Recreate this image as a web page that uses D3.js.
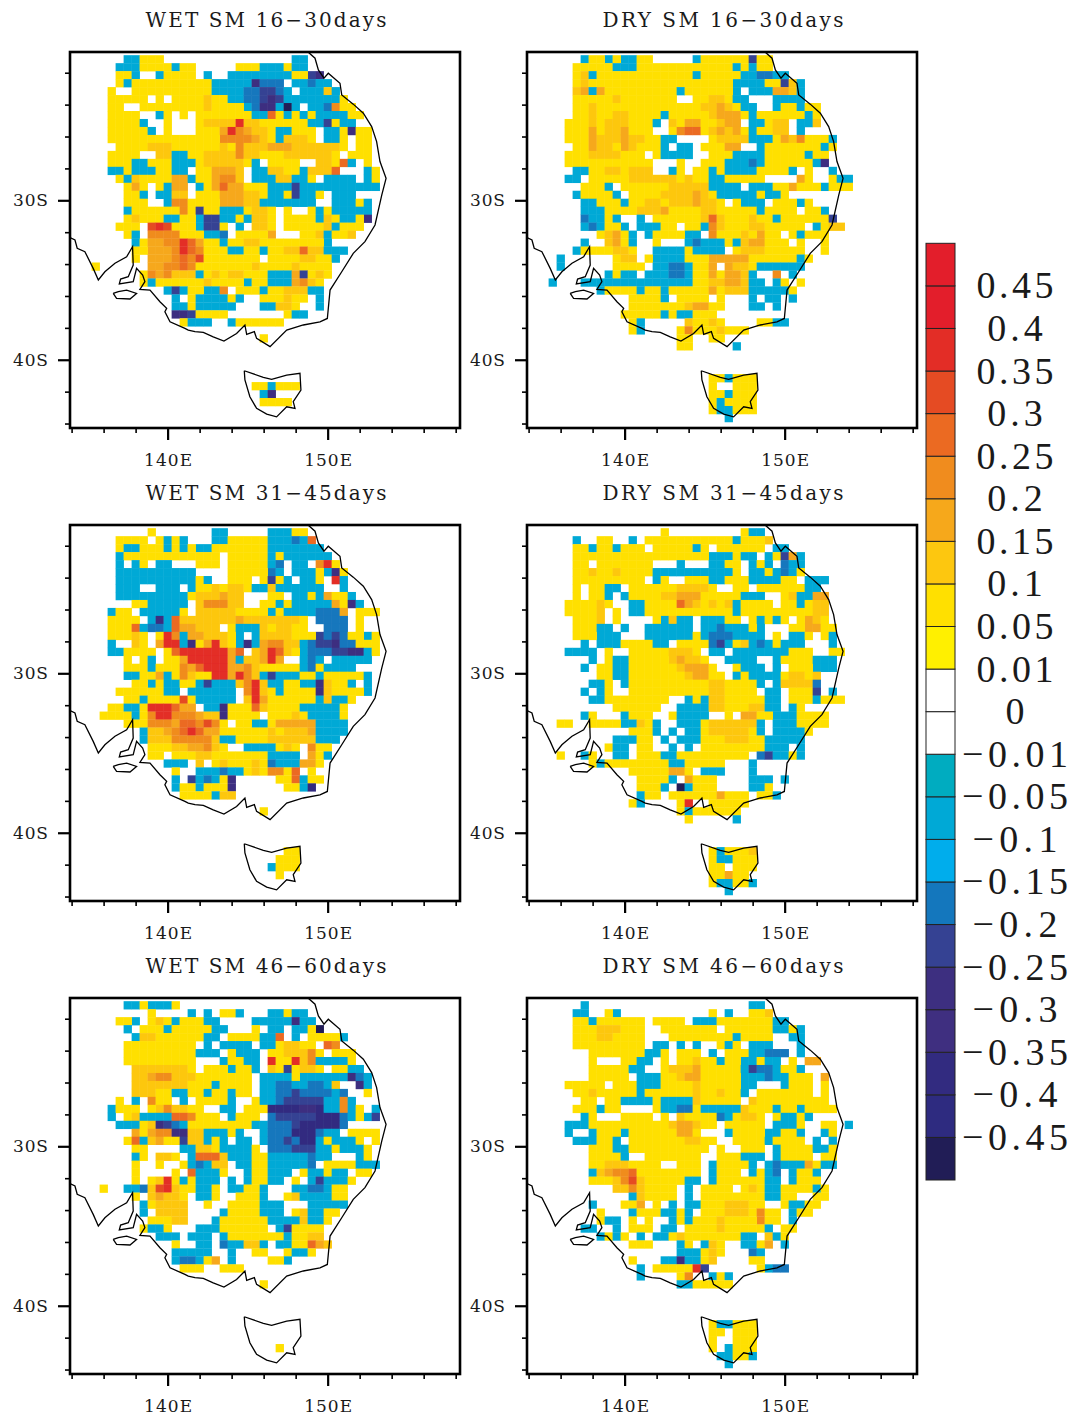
<!DOCTYPE html>
<html><head><meta charset="utf-8">
<script src="https://cdn.jsdelivr.net/npm/d3@7"></script>
<style>html,body{margin:0;padding:0;background:#fff}svg{display:block}text{font-family:"DejaVu Serif",serif;fill:#1a1a1a}</style>
</head><body><div id="c"></div>
<script>
// Each row (south-going, 0.5 deg steps) holds "startColumn:classes" runs. Classes: . none, 1-8 positive, a-g negative.
// Shorthand of this notation: columns not written between two runs, up to 4 in a row, were read as class 2 (the commonest yellow).
const wet16=["6:bb 9:22 27:bb","5:bbb 9:222 12:b 13:22 20:222 23:bbb 26:2 27:bb","5:22 7:b 8:.. 10:b 11:2222 15:. 16:b 17:.. 19:b 20:bbbbbb 26:b 27:2 29:de","5:2 6:b 7:222 11:222222 17:bbb 20:bbc 22:e 23:ccc 26:. 27:bb 29:cb 31:b","4:22 5:.. 7:22 8:222222222 17:bbbb 21:ccdd 25:cb 27:.b 29:bb 31:3 32:b","4:22222 9:.2.2222 16:3 17:22 19:bb 21:cc 23:ded 26:b 27:bbbb 31:bb 33:2","4:22 6:.. 8:222222223 17:222 21:bcc 23:ee 25:bg 27:b 28:. 29:bbb 31:cc 32:5 33:22","4:2222 8:..b2 12:.2. 15:2222222 22:bbb 24:6 25:2 26:b 27:2 28:b 29:22 30:bbbbb 34:22","4:2222 8:b.. 11:2... 15:22 16:333 19:3 20:8 21:33 22:3 23:222 26:2222 29:bbb 31:d 32:2 33:bb","4:22222 9:b.2...22. 16:222 18:44 19:8 20:5 21:4 22:33 24:2 25:bb 27:222 29:2.b 32:b 33:2 34:e 35:22","4:2222222222 14:222 18:555 21:543 23:33 24:22 25:b 26:333 29:2.. 31:bb 33:2.. 35:22","4:.2222 9:333 12:2222 17:23 19:22 20:5 21:3 22:33 24:444 27:3 28:333 31:33 33:2.. 35:22","4:2222 8:.. 10:333 12:bb 14:22 16:3 17:33 19:33 20:5 21:33 23:222 26:33 28:333 30:33 32:2.222","4:22.. 6:2 7:bb 9:222 12:bbb 15:22 16:333 19:333 21:2 22:b 23:.222 27:2.. 30:333 32:22 33:6 34:b 35:.2","4:bb 6:22 7:bbb 10:222 12:bb 14:. 15:2 16:2 17:4 18:44 20:3 21:. 22:bb 24:33 26:2 27:2 28:b 29:33 31:3 32:6 33:... 36:b 37:2","5:22 6:b 7:3 8:22 10:22 12:44 14:b 15:222 17:44 18:55 20:3 21:. 22:bb 24:b 25:33 26:3 27:bb 29:2.. 31:b 32:bbb 35:. 36:b 37:2","6:22 7:4 8:22 9:. 10:2 11:bb 12:44 14:.. 15:b 16:22 17:4 18:6 19:44 21:222 24:bbb 27:dd 28:bb 30:b 31:bbbbbbb","6:222 8:b 9:.2 10:bb 12:33 14:.2 16:22 18:4 19:444 21:33 23:22 24:bbb 26:2 27:d 28:bb 30:2 31:.b 32:bb 34:bb 35:..","6:22222 9:..b 12:555 14:222 18:4 19:44 21:33 23:b 24:bbbb 28:bb 30:.. 31:.bb 33:bb 34:b 35:2 36:b","6:b 7:222222 13:5 14:2 15:d 16:22 18:b 19:bb 21:22 22:33 24:2. 26:2.. 28:.22 30:b 31:2 32:bb 34:bb 36:b","6:22 7:3 8:222 11:bb 13:2 15:b 16:dd 18:bb 20:2 21:b 22:33 24:2. 26:2222 30:b 31:3 32:2 33:bb 36:e","5:22 7:2 8:. 9:7 10:88 11:7 12:22 15:bd 16:dd 18:2. 20:b 21:. 22:33 24:2. 26:22222 31:3 32:b 33:222 35:2","6:22 7:b 8:. 9:556 11:55 13:22 16:bb 18:cb 19:.. 20:222 24:4 25:... 28:22 30:33 31:b 32:22 34:3","7:b 8:2 9:4 10:45 12:5 13:8 14:6 15:4 16:222 18:b 19:22 21:33 23:2 24:2222 28:2 31:b 32:..","7:2 9:44 11:4 12:5 13:8 14:6 15:5 16:222 19:bb 21:22 23:b 24:222 26:33 28:6 29:33 31:bbb","7:2 8:.4 10:44 12:55 13:6 14:5 15:7 16:2222 23:. 24:2222 28:333 30:22 32:b","2:2 9:44 11:55 13:6 14:5 15:2 16:2222 22:3 23:2222 27:3 28:2222","8:2 9:5 10:44 11:5 12:3 13:33 15:b 16:22 17:3 19:33 21:222 23:2 24:bb 26:bb 27:4 28:d 29:2 30:3 31:2","8:2 9:b 10:2222 15:22 16:3 17:22 21:b 22:2 23:2 24:bb 26:b 27:4 28:5 29:3 30:2","11:bd 13:b 14:2 16:b 17:bb 18:5 19:. 20:22 22:22 23:b 24:2 25:22 26:3 27:3 28:3 29:b 30:b","12:b 13:.2 15:bbb 17:bbb 19:2 20:b 21:.. 23:222 26:3 27:22 29:. 30:b","12:bb 14:22 15:bb 17:bb 19:b 20:... 23:bbb 25:3 26:3 27:2 28:.. 30:b","12:ee 14:d 15:222 17:22 26:2 27:bb","13:2 14:bb 16:b 17:.. 19:b 24:22","","23:2","","","","","","22:22 24:b 27:2","23:b 24:e","23:2222"];
const dry16=["6:b 9:b 11:bb 14:2 20:b 21:222 23:22 26:22 27:d 28:22","5:22 6:2 8:222 10:bb 12:b 13:2 14:2222 20:222 23:222 25:b 26:2 27:b 28:2 29:2","5:2 6:3 7:b 8:22222 13:222222 19:22 20:b 21:2222 25:2 26:bb 28:cc 30:bb","5:22 6:3 7:2 8:2222222222 18:222222 25:bb 26:bb 28:bb 29:2 30:2 31:d 32:3 33:b","5:3 6:44 7:b 8:4 9:22222222222 18:b 19:2222 25:bb 26:. 27:b 28:b 29:b 30:4 31:4 32:3 33:b","5:2 6:22 7:2 8:22 10:3 11:22222222 18:.. 20:22 22:33 24:2 25:b 26:bb 27:... 30:b 31:bb 33:b","5:2. 6:22 7:3 8:22222 13:222222 19:22 21:33 23:43 25:2 26:bb 28:.2 29:. 30:b 31:222 33:b 34:2 35:2","5:222 7:3 8:2233 12:222222 16:b 17:222 22:33 23:4 24:44 26:2 27:b 28:22 30:222 33:2 34:b 35:2","4:222 7:3 8:2 9:3 10:33 11:3 12:222 15:b 16:.2 17:3 18:2 19:44 20:4 21:22 23:3 24:44 26:. 27:bb 29:2 30:33 31:33 32:. 33:bb 34:b 35:3","4:222 7:4 8:2 9:3 10:33 11:4 12:22 15:.. 17:2 18:5 19:66 21:2 22:33 23:4 24:3 25:44 26:2 27:b 28:22 30:33 31:33 32:. 33:b 34:.","4:2222 7:4 8:3 9:33 11:4 12:33 14:22 15:2 16:bb 18:.... 22:2 23:3 24:3 25:33 27:bbb 29:b 30:2 31:4 32:3 33:5 34:2 35:2 36:2 37:b","4:.2 5:22 7:4 8:33 11:4 12:3 13:22 15:2 16:b 17:.b 18:bb 20:.2 22:222 24:44 26:. 27:.b 28:bb 29:22 32:222 34:222 36:b 37:2","4:22 5:22 7:3 8:333 11:22 13:2 14:. 15:2 16:bbb 19:bb 20:.. 22:222 24:22 25:bb 27:bb 29:22 31:22 33:2 34:b 35:22","4:22 5:222 7:2222 12:2 14:2 15:... 18:2.. 20:.2 22:222 24:bbbb 27:cb 29:2 33:222 35:bd 36:e","5:b 6:b 7:22 9:3 10:3 11:2 12:33 14:33 15:. 16:. 17:b 18:2 19:. 20:22 22:b 23:2 24:bbbb 28:22 31:2 32:b 33:. 34:2 35:.. 37:b","4:b 5:b. 7:222 10:2 12:33 13:3 14:333333 17:3 18:2 20:22 22:bb 24:222 28:2 29:.... 33:4 34:2 35:.. 37:22 38:bb 39:b","6:222 8:2 9:b 10:.2 12:22 14:222 16:2 17:333 19:33 21:3 22:bbb 25:b 26:. 27:b 28:bb 30:2 32:4 33:2 34:2 36:b 37:2 38:22","5:b 6:222 9:22 10:b 11:.2 13:222 16:3 17:333 19:3 20:4 21:3 22:2 23:bbbb 27:b 29:b 30:b 31:2","6:bb 8:2 9:22 11:b 12:222 14:33 17:333 20:44 21:33 23:2 24:. 26:bbb 28:bb 29:. 30:2 33:b 34:2","6:bbb 9:222 13:33 15:3 16:4 17:222 20:2 21:3 22:3 24:2 27:2 28:b 29:2 33:. 34:2 36:b","6:cbb 9:2 10:b 11:.. 13:b 14:.2 16:222 20:2 21:3 22:6 23:3 24:22 27:3 29:2 30:b 31:22 33:22 36:2 37:d","6:bcb 9:2 11:b 12:.b 14:bb 16:222 18:. 19:22 21:b 22:5 23:3 24:2 27:33 29:22 31:2 34:. 35:b 36:2 37:33","8:2 9:34 11:2 12:b 13:.b 15:222 19:bb 21:. 22:5 23:2 24:2 26:3 28:4 29:22 31:. 32:2 33:b 34:222","6:b 7:.. 9:3 10:45 11:22 12:b 13:.2 14:. 15:2 16:... 19:bb 20:cb 22:bb 24:2 25:b 26:3 27:44 29:22 32:. 33:2 34:.. 36:2","5:b 10:3 11:33 12:2 13:.. 15:bbbb 19:2 20:bbbb 24:.2 26:33 27:33 29:22 32:2 33:2 34:... 36:2","3:b 10:22 11:3 12:33 13:. 15:bbbb 19:2 20:2 22:44 24:44 26:4 27:2 29:22 31:22 32:2b 33:bb 34:2","3:b 10:22 12:222 14:. 15:bbb 17:cc 19:b 20:2 21:2 22:44 23:. 24:44 25:3 26:33 27:2 28:bbbb 32:bb","9:b 10:2 11:bb 13:. 14:bbb 17:cc 19:b 20:22 22:44 23:2 24:44 26:3 27:b 28:.b 29:.. 30:5 31:.. 32:b","2:b 3:... 6:bb 8:b 9:bb 11:bbbbbb 17:bbb 20:22 21:2 22:33 23:3 24:44 26:33 27:b 28:b 29:.. 30:b 31:2. 33:2","8:b 9:222 12:2 13:b 14:222 16:b 17:2 18:2 19:22 21:222 22:4 23:2 24:33 26:3 27:b 28:b 29:b 30:b 31:b 32:2","12:2222 16:b 17:.2 19:222 22:. 23:2. 25:.. 27:b 28:.b 30:b 31:. 32:b","12:2222 16:2 17:22 19:34 21:4 22:2 23:2 24:... 27:b 28:bb 29:.b 31:.","11:222 13:222 16:b 17:2 18:bb 20:222 23:..","12:222 13:b 14:.... 18:.. 19:3 20:222 22:3 23:2 24:.... 28:22 30:bb","12:2 13:b 14:.... 18:22 19:5 20:2 22:22 23:3 24:222","18:22 20:.. 22:2 23:2 24:.","18:2 19:2 25:b","","","","22:22 24:b 25:222","22:2 23:. 24:. 25:222","22:22 24:b 25:222","22:2 23:b 24:22 25:222","22:2 23:bb 25:2 26:2 27:2","24:b"];
const wet31=["9:2 17:bb 24:bb 26:b 28:2","5:2222 9:.2 11:b 12:2 13:b 14:... 17:bb 22:22 24:bbb 27:cb 29:6","5:2 6:bb 8:222 11:b 12:2 13:b 15:bb 17:22 22:22 24:bbbbb 29:bb","5:bb 6:22 8:222 11:222 13:22 15:22 16:22 18:. 19:2222 23:2 24:b 25:2 26:bbbb 30:bb","5:b 6:. 7:b 8:2 9:. 10:bb 12:... 15:222 18:. 19:2222 23:2 24:bc 26:.b 27:bb 29:. 30:5 31:8 32:2","5:bbb 8:bbbbbb 14:b 15:.. 16:... 19:2222 24:cb 26:. 27:bb 29:b 31:bb 32:e 33:2","5:bbbbbbbbbb 15:2 16:b 17:.. 19:22 21:2 22:. 23:2. 24:d 25:2 26:b 27:.b 28:b 29:b 31:.. 32:8 33:b","5:bb 7:bb 8:.. 10:bbb 12:bb 13:. 14:b 15:2222 17:3 19:33 20:33 21:2 22:bbb 24:3 25:b 26:b 27:b 28:bb 30:b 31:.. 33:b","5:bbbbb 10:bbbb 14:2 15:33 16:33 17:3 18:4 19:3 20:3 21:. 22:.. 24:22 26:.. 27:b 28:bb 29:2 30:b 31:4 32:22 33:2 34:b","4:. 5:.. 8:2 9:bbbb 13:b 14:. 15:3 16:555 19:33 21:. 22:.2 24:2 25:bb 26:2 27:bbb 30:bb 32:4 33:22 34:e 35:b","4:b 5:222 7:.. 8:b 9:bbbb 14:.3 15:33 17:333 21:2 22:2 24:b 25:2 26:bb 28:bb 30:ccc 33:4 34:.2 35:2 37:2","4:22222 8:.b 9:b 10:e 11:b 12:6 13:33 15:33 17:33 19:34 21:33 23:333 26:33 28:2 29:.. 30:ccc 33:c 34:.2","4:2222 7:6 8:b 9:cc 11:bc 12:6 13:44 15:3 16:33 18:. 19:2 20:bbb 23:3 25:33 28:2 29:. 30:.c 31:cc 33:c 34:.2","4:22 5:222 7:3 8:2. 10:2 11:8 12:5 13:b 14:44 16:333 20:b 21:. 22:b 23:33 25:33 28:2 30:dc 32:d 33:c 34:2 36:b 37:2","4:b 5:.. 6:.2 7:3 8:2 9:. 10:4 11:8 12:88 13:b 14:e 15:2 16:4 17:88 18:3 20:b 21:e 22:b 23:4 24:55 26:33 28:b 29:c 30:dd 32:ee 33:c 34:c 35:22 37:2","4:bb 6:222 8:2 10:.2 12:6 13:88888 18:84 20:6 21:. 22:3 23:4 24:8 25:6 26:3 28:bc 30:cc 32:dd 34:ee 36:b 37:2","6:22 7:. 8:2 9:b 10:.2 12:2 13:4 14:8 15:8888 19:4 20:b 21:33 23:4 24:8 25:4 26:.. 28:bd 29:c 30:b 31:.b 32:bbb 35:bb","6:22 8:2 9:b 10:2 12:2 13:54 15:6 16:8 17:888 19:4 20:4 21:5 22:3 23:2 24:2 26:22 28:bc 30:2 31:b 32:bb 34:b","6:bbb 8:22 10:4 11:b 12:22 13:5 14:3 15:222 17:88 19:4 20:8 21:5 22:3 23:b 24:d 25:bbb 28:2 29:2b 31:222 34:22 35:2 36:b","6:.b 7:2 9:b 10:2 11:bb 14:2 15:bb 16:d 17:bb 18:bb 20:3 21:5 22:8 23:3 24:bb 26:2 28:b 29:bb 30:e 31:3 33:2 34:b 35:. 36:b","5:2 6:222 8:22 10:2 11:b 12:b 13:. 14:bbb 16:bb 18:bb 20:. 21:5 22:8 23:3 24:22 25:b 26:2 28:22 29:2 30:e 31:3 33:22 36:b","6:223 8:b 9:222 12:2 13:7 14:2 15:bb 16:bb 18:bb 20:. 21:3 22:8 23:4 24:2 26:2 28:2 29:2b 30:b 31:3 32:bb 34:2","4:2 5:2 6:bb 8:2 9:88 11:8 12:6 13:4 14:44 15:. 16:bb 18:e 19:22 21:2 22:6 23:3 24:22 27:22 28:bbb 31:bb 33:2","3:2 4:2 5:22 7:b 8:2 9:5 10:88 12:5 13:5 14:54 16:33 18:e 19:222 22:2 23:. 24:222 27:3 28:2 29:bb 31:bb 33:2","6:2 7:2 8:2 9:5 10:5 11:5 12:4 13:6 14:6 15:5 16:7 17:5 18:22 19:. 20:2 22:bb 24:2 25:4 26:44 28:4 29:4 30:bbb 32:bb","8:b 9:33 11:44 12:5 13:6 14:8 15:6 16:44 18:2 20:2 22:2 24:3 26:33 28:33 29:4 30:bbb 32:bb","8:b 9:33 11:33 12:55 14:5 15:5 16:5 17:3 18:bb 20:2222 24:3 25:333 28:3 29:3 30:b 31:bb","9:222 12:33 14:44 16:5 17:3 18:22 19:.. 21:bbb 24:b 25:2 26:3 27:2 28:. 29:5 30:22","9:22 11:.2 13:222 15:33 17:22 19:222 22:2222 24:bb 25:b 26:bb 28:. 29:4 30:2 31:b","11:b 12:bb 14:. 15:3 16:.2 18:3 19:222 22:3 23:2 24:cb 26:bb 28:4 29:4 30:2","12:2 13:.. 15:bb 17:bb 18:cb 20:b 21:2 22:33 23:2 24:5 25:5 26:2 27:6 28:. 29:2","12:b 13:. 14:d 15:b 16:c 17:b 18:2 19:e 20:.... 24:. 25:22 26:2 27:6 28:b 29:22","12:b 13:22 15:b 16:222 18:22 19:e 26:2 27:2 28:bb 29:f","13:22 14:222 17:b 18:33","","23:2","","","","","26:22","25:222","24:b 25:222","25:2"];
const dry31=["16:2 26:2 27:bb","5:b 6:.. 9:2 10:.. 12:b 13:. 14:2 15:2 16:2222 20:2 21:2222 25:b 26:2 29:3","5:22 7:b 8:22 10:b 11:2222 14:. 15:22222 20:b 21:2.. 23:22222 29:.b 30:bb","5:222 7:2 8:222222 14:22222 20:2 22:bbb 25:2 26:bb 28:. 29:b 30:2 31:d 32:4 33:b","5:222 7:. 8:222222 14:2 15:.... 18:b 19:.. 21:. 22:bbb 24:2 25:2 26:. 27:b 28:2 29:b 30:. 31:cb 33:b","5:222 7:3 8:22 10:3 11:222 14:2 15:bbbbbbb 22:bbb 24:b 25:2 26:. 27:bb 29:2. 30:b 31:cb 33:2","5:2222 9:22222 14:. 15:b 16:2 17:.. 19:222 22:bb 24:2 25:22 27:bbb 29:bb 31:22 33:. 34:bbb","5:2 6:. 7:22 9:bb 10:b 11:.2 13:2222 17:2 18:333 20:33 22:2 23:.. 25:2222 27:. 29:2 31:22 33:2 34:bb","5:2 6:. 7:22 9:b 10:.. 11:b 12:22 16:33 18:444 21:2 23:222 26:bbb 29:. 30:.2 32:3 33:bb 35:44","4:22 5:222 8:3 9:2.. 12:bb 14:222 17:2 18:6 19:4 20:3 21:2 22:3 23:2 24:3 25:b 26:222 29:2. 31:22 33:b 34:2 35:33","4:2222 8:3 9:. 10:2 11:.b 12:bb 14:2222 18:22 24:2 25:b 26:2222 30:2222 34:2 35:3 36:3","5:222 8:3 9:.22 11:.... 16:bb 17:3 18:bb 20:. 21:bbb 24:22 26:.2 28:b 29:2 30:b 31:2 32:. 34:44 35:3 36:2","5:222 8:b 9:b 10:... 11:b 12:.. 13:.b 15:b 16:bbbb 20:. 21:bbc 24:bbb 28:b 29:.. 30:.b 31:.. 32:2 34:44 36:22","5:22 8:b 9:bb 11:... 14:bbbb 16:bbbb 20:2 21:b 22:cc 24:cbbbb 29:.2. 31:. 32:bbb 34:2 35:.. 36:2 37:b","6:bb 7:. 8:bb 9:bb 12:2222 15:bb 17:.2 19:222 21:2 22:cd 24:b 25:2 26:3 27:bcb 30:2 31:bb 33:bb 34:.. 36:.b","4:bbb 7:b 8:. 9:22 10:.. 12:2222 16:2 17:3 18:33 19:3 20:2 21:. 22:bb 24:. 25:bbbbb 30:bbb 32:22 34:2 35:.. 38:2","6:.b 7:bb 8:. 9:2 10:bb 12:2222 17:3 18:4 19:33 21:2 22:. 23:. 24:bbbb 28:. 29:.b 30:b 32:2 33:22 35:bbb 37:b","6:b 7:. 8:22 10:bb 12:22222 17:2 18:3 19:4 20:44 22:2 23:.. 25:2 26:bb 28:bb 29:.b 31:.. 32:22 35:bb 36:bb","8:2 9:2 10:bb 12:2222 17:22 19:3 20:44 22:22 24:. 25:b 26:2 27:bb 29:b 30:b 31:22 32:33 34:2 35:33 36:.","7:b 8:b 9:22 10:.b 12:2222222 19:222 22:33 24:222 27:2 28:b 29:. 30:b 31:33 33:33 35:c","6:b 7:.b 8:b 10:.. 12:222222222 21:2 22:333 24:222 27:22 28:.b 29:b 30:b 31:.22 33:22 35:d 36:. 37:b","7:bb 10:222222 16:2 17:. 18:. 19:b 20:2 21:b 22:33 23:3 24:22 27:22 29:b 30:bb 31:. 32:22 34:2 35:b 36:2 37:22","10:2222 14:222 16:.. 18:bbb 21:b 22:33 24:222 27:3 28:3 29:b 30:bb 31:.b 33:2","6:b 7:2 8:... 11:b 12:222 15:.. 17:2 18:bbb 21:bb 22:.. 24:2 25:. 26:4 27:4 28:2 30:bbb 33:222 36:2","3:22 5:.. 7:2 11:bb 13:3 14:22 15:b 16:.. 18:bbb 20:b 21:2 22:3 23:33 25:3 26:33 28:b 29:.. 30:bbb 33:2 34:22 36:2","12:222 15:b 16:.. 17:b 18:.bb 20:b 21:2 22:33 24:33 26:3 27:2 28:b 29:.b 30:bbb 33:b 34:2","10:b 11:b 12:b 13:222 15:. 16:bb 17:. 18:bbb 20:b 21:22 23:2 24:33 26:3 27:22 29:bbbb 33:b","9:2 10:bb 12:. 13:222 15:. 16:.bb 18:.. 19:b 20:. 21:222 24:222 27:222 29:bbb 32:. 33:b","3:2 4:.. 6:b 7:2 8:.. 10:bb 12:. 13:222 16:bb 18:222 20:222 23:222 27:. 28:cc 29:d 30:b 31:b 32:2 33:b","7:2 8:b 9:2 10:2 13:2222 16:2 17:bbb 19:222 22:222 24:... 27:b","12:22222 17:44 18:4 19:2 20:.2 21:bbb 24:... 27:bb 28:.","13:22222 17:b 18:. 19:4 20:2 21:22 23:.... 27:b 28:bb 30:. 31:b","13:222 16:b 17:. 18:g 19:b 20:22 21:22 23:.... 27:bb 28:b 29:2","13:b 14:222 16:. 17:2 18:22 20:2 22:2 23:4 24:222 27:. 28:22 30:b","12:2 13:b 14:.... 18:22 19:8 20:.. 23:2222","18:2 19:b 23:222 24:2","19:2 25:b","","","","22:22 23:b 24:22 26:23","22:22 23:b 24:b 25:222","22:222 24:. 25:222","22:222 24:4 25:22","22:2 23:bb 25:22 27:b","24:b"];
const wet46=["6:bb 9:bbb 12:2","9:2 10:.... 14:b 15:. 16:b 17:. 18:22 20:b 21:... 24:bbb 26:2 27:b 28:b","5:2 7:b 8:. 9:22 10:3 11:2 12:b 13:222 16:bb 18:.... 22:bbbbb 27:e 28:bb 29:b","6:b 7:. 8:222 11:b 12:2222 16:2 17:bb 19:... 22:2 23:. 24:bbb 26:. 27:bb 28:b 30:g","7:b 8:3 9:33 10:222 14:22 16:b 17:b 18:. 19:22 22:22 23:bb 25:6 26:.2 27:bb 28:. 33:b","6:2222 10:22222 15:. 16:b 17:. 18:bbb 21:b 22:. 23:bb 24:b 25:2 26:33 27:3 28:2 29:2. 31:66 32:5 33:.","6:222 9:222222 15:b 16:b 17:bb 18:. 20:bb 22:b 23:. 24:2 25:2 26:33 28:3 29:5 30:2 31:. 34:2","6:22 8:222222 14:2 15:.. 17:. 18:b 19:22 21:bb 22:b 23:.. 24:8 25:22 26:2 27:8 28:3 29:5 30:bbb 32:bb 34:2","7:333 10:33 12:33 13:3 14:2 15:.. 16:2 19:b 20:22 22:b 23:. 24:3 25:2 26:d 27:2 28:3 29:3 30:2 31:. 33:2 34:bb 35:b","7:333 9:4 10:55 12:3 13:33 15:2222 18:2 19:22 21:2 22:. 23:bbb 26:b 28:bc 29:bb 31:bb 33:b 34:e 35:cb","7:3333 11:333 14:22 16:2 17:b 18:222 21:22 22:. 23:bbb 25:cc 27:bb 29:cc 31:b 32:3 33:. 34:. 35:e 36:b","7:33 9:3 10:22 12:bb 14:22 16:b 17:22 19:b 20:22 22:. 23:bb 25:ccc 27:d 28:cc 30:c 31:cb 33:c 34:.. 36:2","5:2 6:. 7:b 8:. 9:5 10:22 12:. 13:b 14:.2 16:2 18:2 19:bb 20:. 21:. 22:2 23:b 24:b 25:c 26:dd 28:d 29:dd 31:bb 33:5 34:b","4:b 5:2 6:22 8:. 10:33 11:5 12:33 14:2 15:2 16:.2 17:. 18:bb 20:. 22:22 24:fff 27:ff 28:ee 30:f 31:bb 32:b 33:5 34:b 36:.. 37:b","4:b 5:.2 6:2 7:3 8:bbb 11:b 12:66 14:5 15:2 16:22 18:.2 19:bb 20:22 22:2. 24:cdd 27:dd 29:d 30:ff 32:f 33:c 34:b 36:b 37:d","5:b 6:bb 8:2 9:3 10:e 11:d 12:c 13:b 14:222 18:222 21:2 22:b 23:b 24:cc 26:c 27:d 28:fff 31:ff 33:c 34:.","7:4 8:2 9:44 10:55 11:5 12:ee 14:33 16:bb 18:b 19:2 20:b 21:. 22:. 23:bc 25:c 26:c 27:ff 29:ff 30:c 31:bb 33:. 34:2222","6:2 7:6 8:b 9:3 10:4 11:22 12:2 13:d 14:3 15:3 16:b 17:2 18:b 19:.. 20:bb 21:b 22:. 23:bc 25:c 26:d 27:cf 28:ff 29:ff 30:b 31:2 32:b 33:bb 35:2 36:.. 37:2","7:22 9:.. 11:.. 13:bb 14:b 15:3 16:33 17:2 18:bb 20:bb 22:2 23:.. 24:cb 25:cc 27:d 28:d 29:d 30:bb 32:2 33:bbb 35:b 36:2 37:.","7:b 8:2 9:. 10:33 12:2 13:. 14:b 15:66 17:6 18:3 19:b 20:bb 22:22 24:bb 26:bbb 29:c 30:bb 32:.. 34:.b 35:b 36:2","7:2 8:.. 10:2 11:.. 13:2 14:b 15:cb 17:33 19:. 20:bb 22:22 24:bbb 27:bb 29:c 30:. 31:222 34:2 35:bbb","7:22 8:.... 12:2 13:. 14:6 15:b 16:bb 18:2 19:.. 21:b 22:22 24:bb 26:b 27:. 28:2 29:bb 31:2 32:b 33:b 34:.22","7:2 8:. 9:2 10:3 11:8 12:2 13:b 14:22 15:bb 17:b 18:.. 19:b 20:. 21:b 22:22 24:bb 26:.. 27:2 28:. 29:bb 30:d 31:bbb 34:2","3:2 4:.. 6:bbc 9:33 10:7 11:8 12:3 13:2 14:2 15:b 16:bb 17:2 18:. 19:bb 21:222 23:b 24:. 25:. 26:. 27:bb 29:ccb 31:b 32:22 34:.","7:2 8:. 9:33 10:4 11:33 13:2 14:. 15:bb 17:2 18:.. 20:222 23:b 24:.. 26:2 27:3 28:bb 30:bb 32:22","8:b 9:2 10:333 13:3 14:. 15:. 16:2 17:.. 19:22222 23:b 24:bb 26:.. 28:.. 29:b 30:bb 32:bb","8:b 9:. 10:333 13:3 14:.... 18:b 19:2222 23:b 24:bb 26:.. 27:2 28:3 29:bb 31:22","9:2 10:222 12:33 14:... 17:b 18:2 19:2222 23:2 24:bbb 26:bb 28:3 29:bb 31:2","8:2 9:bb 11:2 12:. 13:. 14:.. 15:bbb 18:2 19:22222 24:. 25:bb 26:d 27:2 28:222 30:2","10:bb 12:b 13:. 14:bb 15:bbb 17:. 18:bb 19:2222 24:2 25:2 26:b 27:222 29:3 30:3","12:2 13:.. 15:bbb 17:.. 18:c 19:bbb 21:3 22:3 23:b 24:.. 25:bb 27:22 29:6 30:4 31:3","12:bbbbb 17:.. 19:b 20:.. 22:22 24:.. 26:2 27:bb 29:2","12:bcc 15:bb 16:2 17:4 18:. 19:b 20:.... 26:b","13:22 14:2 16:.. 18:222","","23:2","","","","","","","","25:2"];
const dry46=["6:b 27:bb","5:bb 6:b 7:.. 10:b 22:2 23:. 24:b 25:.. 29:3","5:222 7:b 8:2222 11:222 14:. 15:222 18:2 19:. 20:bbb 22:b 23:2 24:2 26:22 28:22 30:bb","5:22 7:2 8:333 10:3 11:222 14:.. 16:222 20:222 23:. 24:2222 28:22 30:bb 32:2 33:b","5:2222 8:33 10:222 13:22 14:. 15:.. 17:222 21:222 24:2 25:b 26:2 27:222 29:2. 31:. 32:b 33:b","5:222 8:222 11:222 13:2 14:. 15:bb 17:. 18:b 19:. 20:b 21:.. 23:2 24:b 25:2 26:. 27:bbb 30:.. 31:.. 33:b","7:222 9:22 11:22 13:2 14:bb 16:2 17:. 18:222 21:. 22:b 23:. 24:2 25:222 27:bb 29:cc 31:cc 32:.2 33:b","7:22 8:... 11:222 13:bb 15:. 16:2 17:. 18:222 20:3 21:22 23:b 24:2 26:bb 28:2 29:b 30:b 31:. 32:22 33:. 34:44","7:222 10:222 12:b 13:b 14:.. 16:22 17:3 18:33 20:4 21:2 23:222 26:b 27:d 28:ccc 30:b 31:22 33:b 34:..","7:222 10:222 12:. 13:bb 15:b 16:222 18:3 19:4 20:4 21:222 26:bb 27:bb 29:cb 31:b 32:22 34:2. 35:.. 36:4","4:222 7:222 9:. 10:222 13:bb 15:b 16:22 18:222 20:3 21:2222 26:bb 28:.. 30:.. 31:b 32:222 35:.2","5:22 7:3 8:222222 13:b 14:2 15:22222 20:3 21:222 23:3 24:22 26:b 27:. 28:2222222 35:.. 36:2","6:222 8:.. 9:222 11:bbbb 15:2 16:b 17:bb 19:b 20:3 21:222 25:2 26:.2 27:3 28:222 31:222 33:222 35:22 36:2","5:22 7:2 8:b 9:22 11:... 14:. 15:2 16:bbb 18:c 19:cb 20:2 21:bbbbb 25:b 26:3 27:2 28:222 30:b 31:2 33:bb 34:2 36:22","6:b 7:22 8:... 11:2222 15:. 16:2 17:. 18:3 19:2 20:22 22:2 23:cc 24:b 25:22 26:33 28:2 29:. 30:2 31:bb 33:2 34:b 35:.","4:bbb 7:22222222 15:2222 17:3 18:4 19:44 20:3 21:22 23:.. 24:2222 28:2 29:. 30:bbb 32:b 33:2 34:.. 37:2 38:. 39:b","4:b 5:.. 7:b 8:22 11:b 12:222 17:22 18:44 19:4 20:2 21:.. 23:.b 25:22 29:bb 30:bb 31:22 33:b 34:.. 36:b 37:2","5:bbb 7:b 8:22 10:b 11:. 12:222222 18:2 19:3 20:3 21:2 22:2 23:.. 25:2222 29:bb 30:222 32:22 34:. 35:b 36:. 37:b","7:222 9:2 10:bb 12:222222 18:222 21:2 22:. 23:2 24:.. 26:22 28:2 29:.. 30:b 31:2222 35:bb 37:2","7:2222 11:b 12:.. 14:222 18:222 21:.. 23:222 26:bbb 29:. 30:b 31:2222 35:. 36:22","7:2 8:2 9:333 11:33 12:222 16:.. 18:222 20:2 21:. 22:b 23:222 26:2 27:bb 28:.. 29:b 30:c 31:bb 33:b 34:4 35:2 36:bb 37:b","7:b 8:3 9:44 10:55 11:5 12:6 13:2 14:2222 18:222 20:2. 22:b 23:222 26:. 27:b 28:2 29:bc 30:c 31:.b 32:b 33:2 34:22 35:b 36:.","7:2 9:22 10:3 11:5 12:7 13:3 14:222 18:22 19:bb 21:. 22:b 23:2222 27:22 29:bb 30:b 31:. 32:b 33:222 35:2.","8:. 9:. 10:33 12:5 13:3 14:22 18:. 19:b 20:. 21:222 24:2 25:. 26:22 27:3 28:2 29:bb 30:b 31:2222 35:b 36:2","12:b 13:3 14:2222 18:. 19:b 20:. 21:22222 26:222 28:2 29:bb 30:bb 31:222 33:.. 35:2 36:2","7:b 8:... 12:2 13:4 14:. 15:2. 17:b 18:. 19:bb 20:b 21:222 24:3 25:33 27:2 29:. 30:. 31:2 32:b 33:bb 34:22","7:. 8:2 9:... 12:b 13:222 16:bb 17:b 18:2 19:bb 20:. 21:222 24:3 25:33 27:2 28:5 29:22 31:. 32:b 34:2","6:.. 8:2 9:b 10:b 11:.2 13:. 14:22 15:.. 17:b 18:2 19:b 20:22 22:2 23:3 24:22 26:2 28:5 29:22 31:. 32:b","6:bb 8:.. 10:b 11:. 12:22 14:222 15:. 16:b 17:b 18:. 19:2222 23:3 24:22 27:2 28:2 29:b 30:. 31:22","8:b 9:222 10:b 12:. 13:b 14:. 15:bb 17:22 18:3 19:2222 23:2 24:22 26:bb 28:. 29:3 30:bb 31:2","12:2 13:22 14:2 15:... 18:b 19:2 20:. 21:b 22:3 23:22 24:.. 26:bc 27:b 28:2 29:4 30:. 31:b","18:bb 19:b 20:b 21:2 22:3 23:2 24:... 27:cc 28:b","12:2 13:... 16:bb 18:e 19:bb 21:2 22:3 23:.... 27:22 28:2","13:b 14:. 15:2222 19:22 20:8 21:d 22:...... 29:bb 30:cc","13:b 14:.... 18:22 19:5 20:.. 22:b 23:22 24:b","18:bb 23:22","","","","","22:2 23:b 24:b 25:222","22:22 24:. 25:222","22:2 23:. 24:. 25:222","22:2 23:. 24:b 25:222","22:. 23:bb 25:2 26:2 27:b","24:b"];
const titles=["WET SM 16\u221230days","DRY SM 16\u221230days","WET SM 31\u221245days","DRY SM 31\u221245days","WET SM 46\u221260days","DRY SM 46\u221260days"];
const panelData=[wet16,dry16,wet31,dry31,wet46,dry46];
const classValues={"1":0.03,"2":0.075,"3":0.125,"4":0.175,"5":0.225,"6":0.275,"7":0.325,"8":0.375,"a":-0.03,"b":-0.075,"c":-0.175,"d":-0.225,"e":-0.275,"f":-0.375,"g":-0.475};
const levels=[-0.45,-0.4,-0.35,-0.3,-0.25,-0.2,-0.15,-0.1,-0.05,-0.01,0,0.01,0.05,0.1,0.15,0.2,0.25,0.3,0.35,0.4,0.45];
const levelLabels=["\u22120.45","\u22120.4","\u22120.35","\u22120.3","\u22120.25","\u22120.2","\u22120.15","\u22120.1","\u22120.05","\u22120.01","0","0.01","0.05","0.1","0.15","0.2","0.25","0.3","0.35","0.4","0.45"];
const palette=["#211d56","#2e2b80","#322b80","#3f2f80","#3d2f80","#354293","#1477bd","#00adec","#00a9d6","#00acc0","#ffffff","#ffffff","#fff000","#ffe000","#fdc70f","#f6a81b","#f08c1e","#eb6a22","#e54b23","#e32d26","#e31e2b","#e31e2b"];
const coast=[[148.79,-20.71],[149.21,-21.09],[149.42,-21.82],[149.77,-22.34],[150.04,-22.03],[150.77,-22.66],[150.88,-23.39],[151.6,-23.97],[152.23,-24.54],[152.75,-25.38],[153.06,-26.32],[153.27,-27.57],[153.65,-28.62],[153.38,-29.67],[152.96,-31.55],[152.33,-32.59],[151.6,-33.33],[150.88,-34.48],[150.15,-35.63],[149.98,-37.41],[149.52,-37.62],[148.48,-37.82],[147.44,-38.14],[146.4,-39.18],[145.56,-38.66],[145.42,-38.24],[144.94,-38.41],[144.83,-37.82],[144.31,-38.35],[143.52,-38.83],[142.85,-38.56],[142.23,-38.28],[141.71,-38.24],[141.29,-38.14],[141.08,-38.03],[140.15,-37.62],[139.83,-36.99],[139.94,-36.78],[139.52,-36.36],[138.9,-35.63],[138.27,-35.59],[138.58,-35.1],[138.44,-34.69],[138.06,-34.27],[137.85,-35.1],[136.98,-35.25],[137.06,-34.94],[137.54,-34.79],[137.85,-34.06],[137.81,-32.91],[137.44,-33.54],[136.71,-33.95],[136.08,-34.48],[135.67,-35],[135.35,-34.27],[134.83,-33.22],[134.35,-33.01],[134.21,-32.49],[133.9,-32.34]];
const kangaroo=[[136.6,-35.84],[136.92,-35.73],[137.44,-35.63],[138.06,-35.84],[137.65,-36.19],[136.81,-36.15],[136.6,-35.84]];
const tasmania=[[144.79,-40.69],[145.98,-41.1],[146.5,-41.23],[147.44,-40.96],[148.27,-40.85],[148.33,-41.9],[147.85,-42.63],[147.96,-43.05],[147.44,-42.95],[146.81,-43.58],[146.19,-43.41],[145.56,-43.05],[145.14,-42.32],[144.83,-41.27],[144.79,-40.69]];
const lonTicks=[134,136,138,140,142,144,146,148,150,152,154,156,158];
const latTicks=[-22,-24,-26,-28,-30,-32,-34,-36,-38,-40,-42,-44];
const majorLon=[140,150], majorLat=[-30,-40];

const svg=d3.select("#c").append("svg").attr("width",1072).attr("height",1418);
const W=390,H=376,lefts=[70,527],tops=[52,525,998];
const x=d3.scaleLinear().domain([133.9,158.27]).range([0,W]);
const y=d3.scaleLinear().domain([-20.7,-44.28]).range([0,H]);
const color=d3.scaleThreshold().domain(levels).range(palette);
const line=d3.line().x(d=>x(d[0])).y(d=>y(d[1]));
const fmtLon=d=>d+"E", fmtLat=d=>(-d)+"S";

const defs=svg.append("defs");
defs.append("clipPath").attr("id","pc").append("rect").attr("width",W).attr("height",H);
defs.append("filter").attr("id","soft").attr("x",-0.02).attr("y",-0.02).attr("width",1.04).attr("height",1.04)
  .append("feGaussianBlur").attr("stdDeviation",0.7);

function decode(rows){
  const cells=[];
  rows.forEach((row,r)=>{
    const m=new Map();
    row.split(" ").filter(Boolean).forEach(seg=>{
      const [s,chars]=seg.split(":");
      [...chars].forEach((ch,i)=>m.set(+s+i,ch));
    });
    const cols=[...m.keys()].sort((a,b)=>a-b);
    cols.forEach((c,i)=>{
      if(i&&c-cols[i-1]>1&&c-cols[i-1]<=5) for(let k=cols[i-1]+1;k<c;k++) m.set(k,"2");
    });
    m.forEach((ch,c)=>{ if(ch!==".") cells.push({lon:134.5+0.5*c,lat:-21.15-0.5*r,v:classValues[ch]}); });
  });
  return cells;
}

panelData.forEach((rows,i)=>{
  const col=i%2,row=Math.floor(i/2);
  const g=svg.append("g").attr("transform",`translate(${lefts[col]},${tops[row]})`);
  const plot=g.append("g").attr("clip-path","url(#pc)");
  plot.append("g").attr("filter","url(#soft)").selectAll("rect").data(decode(rows)).join("rect")
    .attr("x",d=>x(d.lon-0.25)).attr("y",d=>y(d.lat+0.25))
    .attr("width",x(0.5)-x(0)+0.3).attr("height",y(-0.5)-y(0)+0.3)
    .attr("fill",d=>color(d.v));
  [coast,kangaroo,tasmania].forEach(p=>plot.append("path").attr("d",line(p)).attr("fill","none").attr("stroke","#000").attr("stroke-width",1.3));

  const ax=g.append("g").attr("transform",`translate(0,${H})`);
  ax.call(d3.axisBottom(x).tickValues(lonTicks.filter(t=>!majorLon.includes(t))).tickSize(5).tickFormat(""));
  ax.select(".domain").remove();
  const ax2=g.append("g").attr("transform",`translate(0,${H})`);
  ax2.call(d3.axisBottom(x).tickValues(majorLon).tickSize(12).tickPadding(14).tickFormat(fmtLon));
  ax2.select(".domain").remove();
  const ay=g.append("g");
  ay.call(d3.axisLeft(y).tickValues(latTicks.filter(t=>!majorLat.includes(t))).tickSize(5).tickFormat(""));
  ay.select(".domain").remove();
  const ay2=g.append("g");
  ay2.call(d3.axisLeft(y).tickValues(majorLat).tickSize(12).tickPadding(10).tickFormat(fmtLat));
  ay2.select(".domain").remove();
  g.selectAll(".tick line").attr("stroke","#000").attr("stroke-width",1.6);
  ax2.selectAll(".tick line").attr("stroke-width",2.2);
  ay2.selectAll(".tick line").attr("stroke-width",2.2);
  ax2.selectAll("text").attr("font-size",17).attr("font-family","DejaVu Serif").attr("textLength",48).attr("lengthAdjust","spacing");
  ay2.selectAll("text").attr("font-size",17).attr("font-family","DejaVu Serif").attr("textLength",35).attr("lengthAdjust","spacing");
  g.append("rect").attr("width",W).attr("height",H).attr("fill","none").attr("stroke","#000").attr("stroke-width",2.6);
  g.append("text").attr("x",W/2+1).attr("y",-25).attr("text-anchor","middle").attr("font-size",20)
    .attr("textLength",241).attr("lengthAdjust","spacing").text(titles[i]);
});

// colour bar
const barX=926,barW=29,barTop=243.3,barBot=1180;
const n=palette.length;
const yb=d3.scaleBand().domain(d3.range(n)).range([barBot,barTop]).paddingInner(0);
const bar=svg.append("g");
bar.selectAll("rect").data(palette).join("rect")
  .attr("x",barX).attr("width",barW).attr("y",(d,i)=>yb(i)).attr("height",yb.bandwidth())
  .attr("fill",d=>d).attr("stroke","#222").attr("stroke-width",1);
bar.selectAll("text").data(levelLabels).join("text")
  .attr("x",1015).attr("y",(d,i)=>yb(i)+12.5)
  .attr("text-anchor","middle").attr("font-size",38)
  .style("font-family","Liberation Serif")
  .attr("textLength",d=>d.length*21.2-(d.includes(".")?8:0)+(d[0]==="\u2212"?8:0))
  .attr("lengthAdjust","spacing").text(d=>d);
</script></body></html>
